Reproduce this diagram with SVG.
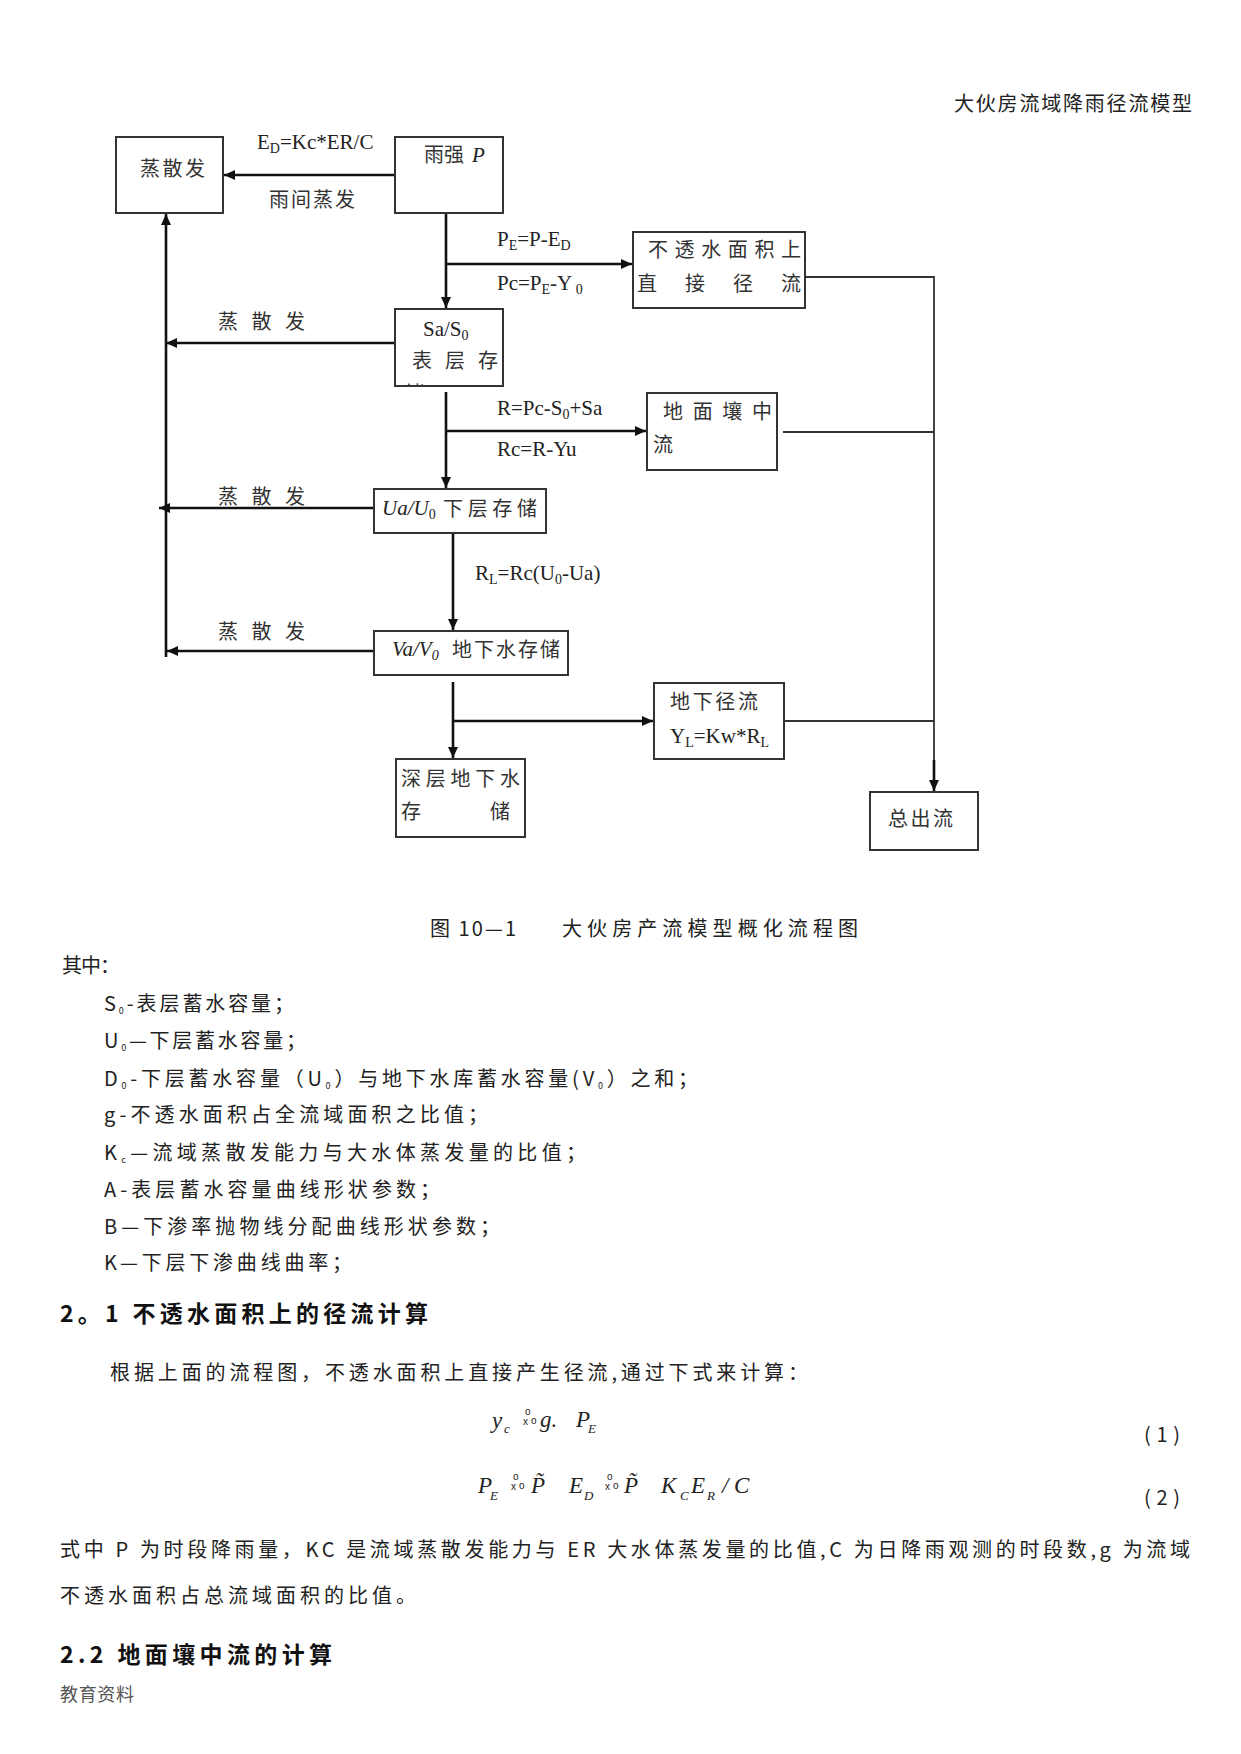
<svg xmlns="http://www.w3.org/2000/svg" width="1241" height="1754" viewBox="0 0 1241 1754">
<style>
.box{fill:none;stroke:#333;stroke-width:2}
.ln{fill:none;stroke:#111;stroke-width:2.6}
.thin{fill:none;stroke:#333;stroke-width:1.8}
.cn{font-family:"Noto Sans CJK SC",sans-serif;font-size:20px;fill:#333}
.lat{font-family:"Liberation Serif",serif;font-size:21px;fill:#222}
.it{font-style:italic}
.sub{font-size:14px}
.doc{font-family:"Noto Sans CJK SC",sans-serif;font-size:20px;fill:#222}
.foot{font-family:"Noto Sans CJK SC",sans-serif;font-size:18px;fill:#555}
.hd{font-family:"Noto Sans CJK SC",sans-serif;font-size:23px;font-weight:bold;fill:#111}
.fm{font-family:"Liberation Serif",serif;font-style:italic;font-size:23px;fill:#222}
.fs{font-size:13px}
.sm{font-family:"Liberation Sans",sans-serif;font-style:normal;font-size:10px}
</style>
<defs>
<marker id="ah" markerWidth="11" markerHeight="10" refX="11" refY="5" orient="auto" markerUnits="userSpaceOnUse">
<path d="M0,0 L11,5 L0,10 z" fill="#111"/>
</marker>
<clipPath id="clipSa"><rect x="396" y="310" width="106" height="75"/></clipPath>
</defs>
<rect width="1241" height="1754" fill="#fff"/>

<text class="doc" x="954" y="111" textLength="238" lengthAdjust="spacing">大伙房流域降雨径流模型</text>

<g id="connectors">
<line class="ln" x1="395" y1="175" x2="224" y2="175" marker-end="url(#ah)"/>
<line class="ln" x1="446" y1="213" x2="446" y2="308" marker-end="url(#ah)"/>
<line class="ln" x1="446" y1="264" x2="632" y2="264" marker-end="url(#ah)"/>
<line class="ln" x1="395" y1="343" x2="166" y2="343" marker-end="url(#ah)"/>
<line class="ln" x1="166" y1="657" x2="166" y2="214" marker-end="url(#ah)"/>
<line class="ln" x1="446" y1="392" x2="446" y2="488" marker-end="url(#ah)"/>
<line class="ln" x1="446" y1="431" x2="646" y2="431" marker-end="url(#ah)"/>
<line class="ln" x1="374" y1="508" x2="159" y2="508" marker-end="url(#ah)"/>
<line class="ln" x1="453" y1="533" x2="453" y2="630" marker-end="url(#ah)"/>
<line class="ln" x1="374" y1="651" x2="167" y2="651" marker-end="url(#ah)"/>
<line class="ln" x1="453" y1="682" x2="453" y2="758" marker-end="url(#ah)"/>
<line class="ln" x1="453" y1="721" x2="653" y2="721" marker-end="url(#ah)"/>
<polyline class="thin" points="805,277 934,277 934,780"/>
<line class="ln" x1="934" y1="760" x2="934" y2="791" marker-end="url(#ah)"/>
<line class="thin" x1="783" y1="432" x2="934" y2="432"/>
<line class="thin" x1="784" y1="721" x2="934" y2="721"/>
</g>

<g id="labels">
<text class="lat" x="257" y="149">E<tspan class="sub" dy="4">D</tspan><tspan dy="-4">=Kc*ER/C</tspan></text>
<text class="cn" x="269" y="207" textLength="86" lengthAdjust="spacing">雨间蒸发</text>
<text class="lat" x="497" y="246">P<tspan class="sub" dy="4">E</tspan><tspan dy="-4">=P-E</tspan><tspan class="sub" dy="4">D</tspan></text>
<text class="lat" x="497" y="290">Pc=P<tspan class="sub" dy="4">E</tspan><tspan dy="-4">-Y</tspan><tspan class="sub" dy="4"> 0</tspan></text>
<text class="cn" x="218" y="329" textLength="87" lengthAdjust="spacing">蒸散发</text>
<text class="lat" x="497" y="415">R=Pc-S<tspan class="sub" dy="4">0</tspan><tspan dy="-4">+Sa</tspan></text>
<text class="lat" x="497" y="456">Rc=R-Yu</text>
<text class="cn" x="218" y="504" textLength="87" lengthAdjust="spacing">蒸散发</text>
<text class="lat" x="475" y="580">R<tspan class="sub" dy="4">L</tspan><tspan dy="-4">=Rc(U</tspan><tspan class="sub" dy="4">0</tspan><tspan dy="-4">-Ua)</tspan></text>
<text class="cn" x="218" y="639" textLength="87" lengthAdjust="spacing">蒸散发</text>
</g>

<g id="n-evap">
<rect class="box" x="116" y="137" width="107" height="76"/>
<text class="cn" x="140" y="176" textLength="65" lengthAdjust="spacing">蒸散发</text>
</g>
<g id="n-rain">
<rect class="box" x="395" y="137" width="108" height="76"/>
<text class="cn" x="424" y="162">雨强 </text>
<text class="lat it" x="472" y="162">P</text>
</g>
<g id="n-imperv">
<rect class="box" x="633" y="232" width="172" height="76"/>
<text class="cn" x="648" y="257" textLength="153" lengthAdjust="spacing">不透水面积上</text>
<text class="cn" x="637" y="291" textLength="164" lengthAdjust="spacing">直接径流</text>
</g>
<g id="n-surface">
<rect class="box" x="395" y="309" width="108" height="77"/>
<text class="lat" x="423" y="336">Sa/S<tspan class="sub" dy="4">0</tspan></text>
<text class="cn" x="412" y="368" textLength="86" lengthAdjust="spacing">表层存</text>
<text class="cn" x="404" y="401" clip-path="url(#clipSa)">储</text>
</g>
<g id="n-interflow">
<rect class="box" x="647" y="393" width="130" height="77"/>
<text class="cn" x="663" y="419" textLength="109" lengthAdjust="spacing">地面壤中</text>
<text class="cn" x="653" y="452">流</text>
</g>
<g id="n-lower">
<rect class="box" x="374" y="489" width="172" height="44"/>
<text class="lat it" x="382" y="515">Ua/U<tspan class="sub" font-style="normal" dy="4">0</tspan></text>
<text class="cn" x="443" y="516" textLength="94" lengthAdjust="spacing">下层存储</text>
</g>
<g id="n-ground">
<rect class="box" x="374" y="631" width="194" height="44"/>
<text class="lat it" x="392" y="656">Va/V<tspan class="sub" dy="4">0</tspan></text>
<text class="cn" x="452" y="657" textLength="108" lengthAdjust="spacing">地下水存储</text>
</g>
<g id="n-baseflow">
<rect class="box" x="654" y="683" width="130" height="76"/>
<text class="cn" x="670" y="709" textLength="88" lengthAdjust="spacing">地下径流</text>
<text class="lat" x="670" y="743">Y<tspan class="sub" dy="4">L</tspan><tspan dy="-4">=Kw*R</tspan><tspan class="sub" dy="4">L</tspan></text>
</g>
<g id="n-deep">
<rect class="box" x="396" y="759" width="129" height="78"/>
<text class="cn" x="401" y="786" textLength="119" lengthAdjust="spacing">深层地下水</text>
<text class="cn" x="401" y="819">存</text>
<text class="cn" x="490" y="819">储</text>
</g>
<g id="n-total">
<rect class="box" x="870" y="792" width="108" height="58"/>
<text class="cn" x="888" y="826" textLength="65" lengthAdjust="spacing">总出流</text>
</g>

<g id="caption">
<text class="doc" x="430" y="936" textLength="86" lengthAdjust="spacing">图 10—1</text>
<text class="doc" x="562" y="936" textLength="296" lengthAdjust="spacing">大伙房产流模型概化流程图</text>
</g>

<g id="notes">
<text class="doc" x="62" y="973" textLength="58" lengthAdjust="spacing">其中：</text>
<text class="doc" x="104" y="1011" textLength="190" lengthAdjust="spacing">S<tspan font-size="9" dy="3">0</tspan><tspan dy="-3">-表层蓄水容量；</tspan></text>
<text class="doc" x="104" y="1048" textLength="202" lengthAdjust="spacing">U<tspan font-size="9" dy="3">0</tspan><tspan dy="-3">—下层蓄水容量；</tspan></text>
<text class="doc" x="104" y="1086" textLength="594" lengthAdjust="spacing">D<tspan font-size="9" dy="3">0</tspan><tspan dy="-3">-下层蓄水容量（U</tspan><tspan font-size="9" dy="3">0</tspan><tspan dy="-3">）与地下水库蓄水容量(V</tspan><tspan font-size="9" dy="3">0</tspan><tspan dy="-3">）之和；</tspan></text>
<text class="doc" x="104" y="1122" textLength="384" lengthAdjust="spacing">g-不透水面积占全流域面积之比值；</text>
<text class="doc" x="104" y="1160" textLength="482" lengthAdjust="spacing">K<tspan font-size="9" dy="3">c</tspan><tspan dy="-3">—流域蒸散发能力与大水体蒸发量的比值；</tspan></text>
<text class="doc" x="104" y="1197" textLength="336" lengthAdjust="spacing">A-表层蓄水容量曲线形状参数；</text>
<text class="doc" x="104" y="1234" textLength="396" lengthAdjust="spacing">B—下渗率抛物线分配曲线形状参数；</text>
<text class="doc" x="104" y="1270" textLength="248" lengthAdjust="spacing">K—下层下渗曲线曲率；</text>
</g>

<g id="section21">
<text class="hd" x="60" y="1322" textLength="368" lengthAdjust="spacing">2。1 不透水面积上的径流计算</text>
<text class="doc" x="110" y="1380" textLength="698" lengthAdjust="spacing">根据上面的流程图，不透水面积上直接产生径流,通过下式来计算：</text>
</g>

<g id="formula1">
<text class="fm" x="492" y="1428">y<tspan class="fs" x="504" dy="5">c</tspan><tspan class="sm" x="523" dy="-8">x</tspan><tspan class="sm" x="525" dy="-10">o</tspan><tspan class="sm" x="531" dy="9">o</tspan><tspan x="540" dy="3">g.</tspan><tspan x="576">P</tspan><tspan class="fs" x="588" dy="6">E</tspan></text>
<text class="doc" x="1144" y="1442" textLength="36" lengthAdjust="spacing">(1)</text>
</g>

<g id="formula2">
<text class="fm" x="478" y="1493">P<tspan class="fs" x="490" dy="7">E</tspan><tspan class="sm" x="511" dy="-10">x</tspan><tspan class="sm" x="513" dy="-10">o</tspan><tspan class="sm" x="519" dy="9">o</tspan><tspan x="531" dy="4">P̃</tspan><tspan x="569">E</tspan><tspan class="fs" x="584" dy="7">D</tspan><tspan class="sm" x="605" dy="-10">x</tspan><tspan class="sm" x="607" dy="-10">o</tspan><tspan class="sm" x="613" dy="9">o</tspan><tspan x="624" dy="4">P̃</tspan><tspan x="661">K</tspan><tspan class="fs" x="680" dy="7">C</tspan><tspan x="691" dy="-7">E</tspan><tspan class="fs" x="707" dy="7">R</tspan><tspan x="722" dy="-7">/</tspan><tspan x="734">C</tspan></text>
<text class="doc" x="1144" y="1505" textLength="36" lengthAdjust="spacing">(2)</text>
</g>

<g id="body">
<text class="doc" x="60" y="1557" textLength="1130" lengthAdjust="spacing">式中 P 为时段降雨量，KC 是流域蒸散发能力与 ER 大水体蒸发量的比值,C 为日降雨观测的时段数,g 为流域</text>
<text class="doc" x="60" y="1603" textLength="356" lengthAdjust="spacing">不透水面积占总流域面积的比值。</text>
<text class="hd" x="60" y="1663" textLength="272" lengthAdjust="spacing">2.2 地面壤中流的计算</text>
<text class="foot" x="60" y="1701" textLength="74" lengthAdjust="spacing">教育资料</text>
</g>
</svg>
